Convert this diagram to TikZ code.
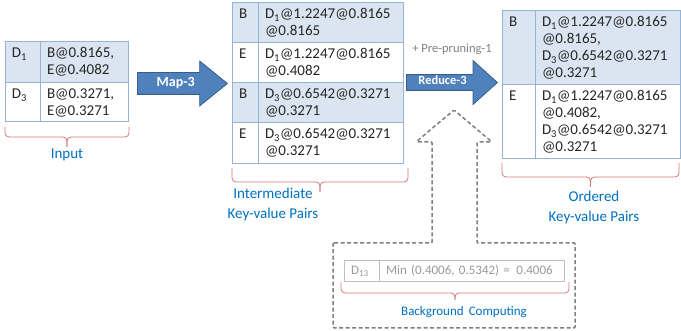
\documentclass[tikz,border=0pt]{standalone}
\usepackage{fontspec}
\setmainfont{Carlito}
\usetikzlibrary{calc,positioning,shapes.arrows}

\definecolor{tabline}{RGB}{149,179,215}
\definecolor{tabfill}{RGB}{219,229,241}
\definecolor{arrowfill}{RGB}{79,129,189}
\definecolor{arrowline}{RGB}{56,93,138}
\definecolor{bracered}{RGB}{212,118,116}
\definecolor{labelblue}{RGB}{0,112,192}
\definecolor{framegray}{RGB}{128,128,128}

% brace below a table: left end, right end, drop, tip
\newcommand{\kvbrace}[4]{%
  \draw[brace] (#1) -- ++(0,#3) -- ($(#1)!.5!(#2)+(0,#3)$) -- ++(0,#4);
  \draw[brace] (#2) -- ++(0,#3) -- ($(#1)!.5!(#2)+(0,#3)$) -- ++(0,#4);
}

\begin{document}
\begin{tikzpicture}[
      x=1pt, y=-1pt,
      font=\fontsize{15}{17}\selectfont,
      cell/.style={draw=tabline, line width=0.8pt, anchor=north west,
        outer sep=0pt, inner xsep=7pt, inner ysep=0pt, align=left,
        text height=17pt, text=black!85},
      bgcell/.style={cell, draw=black!25, text=black!40,
        font=\fontsize{13}{15}\selectfont, text height=15pt, text depth=6pt},
      blockarrow/.style={single arrow, draw=arrowline, fill=arrowfill,
        line width=0.8pt, text=white, anchor=west,
        font=\bfseries\fontsize{14}{16}\selectfont,
        text height=9pt, text depth=3pt},
      kvlabel/.style={text=labelblue, align=center,
        font=\fontsize{15}{20}\selectfont},
      brace/.style={draw=bracered, line width=0.8pt, rounded corners=4pt},
      dashframe/.style={draw=framegray, line width=1.5pt,
        dash pattern=on 4pt off 2.5pt, rounded corners=1pt}
    ]
    \useasboundingbox (0,0) rectangle (681,331);

    % input table
    \node[cell, fill=tabfill, text width=21pt, text depth=24pt] (ink1) at (5,41) {D\textsubscript{1}};
    \node[cell, fill=tabfill, text width=74pt, text depth=24pt] (inv1) at (ink1.north east) {B@0.8165,\\E@0.4082};
    \node[cell, text width=21pt, text depth=22pt] (ink2) at (ink1.south west) {D\textsubscript{3}};
    \node[cell, text width=74pt, text depth=22pt] (inv2) at (ink2.north east) {B@0.3271,\\E@0.3271};

    % intermediate table
    \node[cell, fill=tabfill, text width=12pt, text depth=23pt] (mk1) at (232,2) {B};
    \node[cell, fill=tabfill, text width=131pt, text depth=23pt] (mv1) at (mk1.north east) {D\textsubscript{1}@1.2247@0.8165\\@0.8165};
    \node[cell, text width=12pt, text depth=23pt] (mk2) at (mk1.south west) {E};
    \node[cell, text width=131pt, text depth=23pt] (mv2) at (mk2.north east) {D\textsubscript{1}@1.2247@0.8165\\@0.4082};
    \node[cell, fill=tabfill, text width=12pt, text depth=23pt] (mk3) at (mk2.south west) {B};
    \node[cell, fill=tabfill, text width=131pt, text depth=23pt] (mv3) at (mk3.north east) {D\textsubscript{3}@0.6542@0.3271\\@0.3271};
    \node[cell, text width=12pt, text depth=24pt] (mk4) at (mk3.south west) {E};
    \node[cell, text width=131pt, text depth=24pt] (mv4) at (mk4.north east) {D\textsubscript{3}@0.6542@0.3271\\@0.3271};

    % ordered table
    \node[cell, fill=tabfill, text width=19pt, text depth=57pt] (ok1) at (502,10) {B};
    \node[cell, fill=tabfill, text width=131pt, text depth=57pt] (ov1) at (ok1.north east) {D\textsubscript{1}@1.2247@0.8165\\@0.8165,\\D\textsubscript{3}@0.6542@0.3271\\@0.3271};
    \node[cell, text width=19pt, text depth=57pt] (ok2) at (ok1.south west) {E};
    \node[cell, text width=131pt, text depth=57pt] (ov2) at (ok2.north east) {D\textsubscript{1}@1.2247@0.8165\\@0.4082,\\D\textsubscript{3}@0.6542@0.3271\\@0.3271};

    % block arrows
    \node[blockarrow, minimum height=90pt, inner ysep=4.5pt,
      single arrow head extend=11.5pt, single arrow tip angle=78] (map) at (137,83.5) {Map-3};
    \node[blockarrow, font=\bfseries\fontsize{12.5}{14}\selectfont, text height=8pt,
      minimum height=91pt, inner xsep=8pt, inner ysep=2pt,
      single arrow head extend=14pt, single arrow tip angle=84] (reduce) at (406,82.5) {Reduce-3\hspace*{10pt}};
    \node[text=black!50, font=\fontsize{12.5}{14}\selectfont] (prune) at (452,49) {+ Pre-pruning-1};

    % background computing
    \draw[dashframe] (333,243) -- (432,243) -- (432,142) -- (416,142) -- (454,110)
      -- (492,142) -- (477,142) -- (477,243) -- (575,243) -- (575,328) -- (333,328) -- cycle;
    \node[bgcell, text width=21pt] (bgk) at (344,260) {D\textsubscript{13}};
    \node[bgcell, text width=171pt] (bgv) at (bgk.north east) {Min (0.4006, 0.5342) = \,0.4006};

    % braces and labels
    \kvbrace{[yshift=-6pt]ink2.south west}{[yshift=-6pt,xshift=1pt]inv2.south east}{10}{10}
    \kvbrace{[yshift=-5pt]mk4.south west}{[yshift=-5pt,xshift=5pt]mv4.south east}{14}{10}
    \kvbrace{[yshift=-5pt]ok2.south west}{[yshift=-5pt,xshift=-1pt]ov2.south east}{14}{10}
    \kvbrace{[yshift=-1pt,xshift=-3pt]bgk.south west}{[yshift=-1pt,xshift=5pt]bgv.south east}{11}{7}

    \node[kvlabel] (inlbl) at (67,155) {Input};
    \node[kvlabel] (midlbl) at (273,205) {Intermediate\\Key-value Pairs};
    \node[kvlabel] (ordlbl) at (594,208) {Ordered\\Key-value Pairs};
    \node[kvlabel, font=\fontsize{13}{15}\selectfont] (bglbl) at (464,312) {Background\, Computing};
  \end{tikzpicture}
\end{document}
